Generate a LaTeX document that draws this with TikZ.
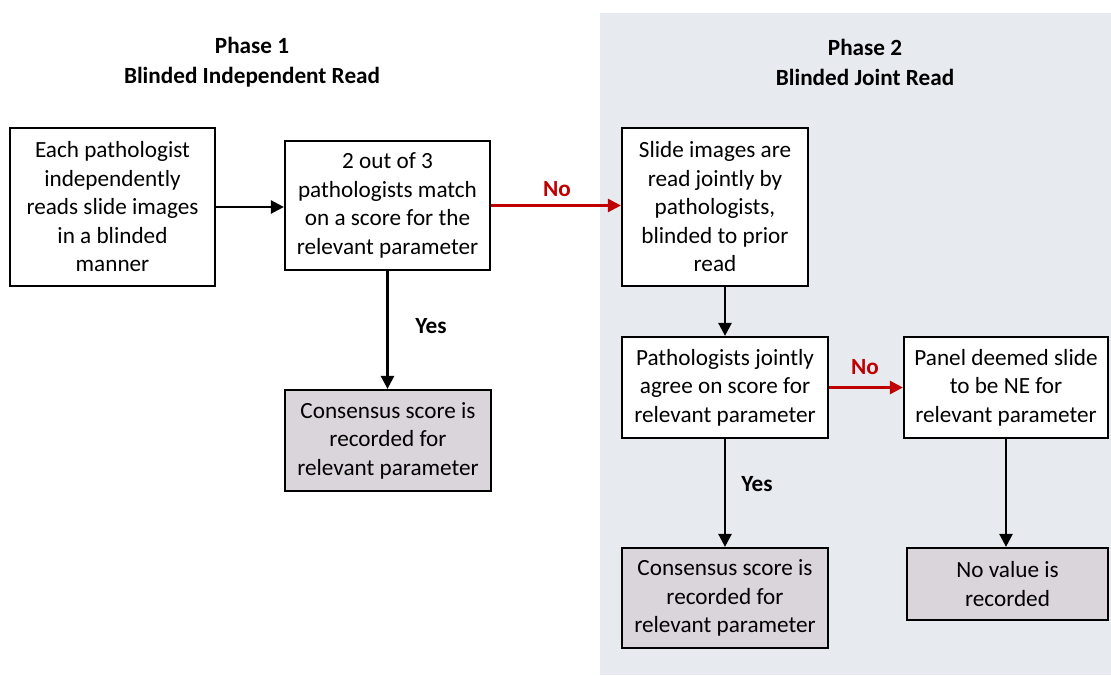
\documentclass[tikz,border=0pt]{standalone}
\usepackage{fontspec}
\setmainfont{Carlito}
\usetikzlibrary{arrows.meta,calc}
\definecolor{panelbg}{RGB}{231,235,239}
\definecolor{resfill}{RGB}{218,212,219}
\definecolor{noRed}{RGB}{192,0,0}
\tikzset{
  box/.style={draw=black, line width=2.2pt, fill=white, align=center, inner sep=0pt,
    font=\fontsize{23.2}{28.5}\selectfont},
  resbox/.style={box, fill=resfill},
  arr/.style={line width=2.5pt, -{Triangle[length=13pt,width=13pt]}},
  noarr/.style={line width=2.6pt, draw=noRed, -{Triangle[length=13pt,width=13pt,fill=noRed]}},
  lbl/.style={font=\fontsize{23.2}{26}\selectfont\bfseries, inner sep=0pt},
  hdr/.style={font=\fontsize{23.2}{30}\selectfont\bfseries, align=center, inner sep=0pt}
}
\begin{document}
\begin{tikzpicture}[x=1pt,y=-1pt]
\useasboundingbox (0,0) rectangle (1111,675);
\fill[white] (0,0) rectangle (1111,675);
\fill[panelbg] (600,13) rectangle (1111,675);

\node[hdr] (h1) at (252,62) {Phase 1\\Blinded Independent Read};
\node[hdr] (h2) at (865,62) {Phase 2\\Blinded Joint Read};

\node[box, minimum width=205pt, minimum height=158pt] (A) at (112.5,207)
  {Each pathologist\\independently\\reads slide images\\in a blinded\\manner};
\node[box, minimum width=205pt, minimum height=129pt] (B) at (387.5,205.5)
  {2 out of 3\\pathologists match\\on a score for the\\relevant parameter};
\node[box, minimum width=186pt, minimum height=158pt] (C) at (715,207)
  {Slide images are\\read jointly by\\pathologists,\\blinded to prior\\read};
\node[box, minimum width=206pt, minimum height=101pt] (D) at (725,387.5)
  {Pathologists jointly\\agree on score for\\relevant parameter};
\node[box, minimum width=204pt, minimum height=101pt] (E) at (1006,387.5)
  {Panel deemed slide\\to be NE for\\relevant parameter};
\node[resbox, minimum width=201pt, minimum height=72pt] (F) at (1007.5,584)
  {No value is\\recorded};
\node[resbox, minimum width=206pt, minimum height=100pt] (G) at (725,598)
  {Consensus score is\\recorded for\\relevant parameter};
\node[resbox, minimum width=206pt, minimum height=101pt] (H) at (388,440.5)
  {Consensus score is\\recorded for\\relevant parameter};

\draw[arr] (A.east) -- (A.east -| B.west);
\draw[noarr] (B.east) -- (B.east -| C.west);
\draw[arr] (B.south) -- (B.south |- H.north);
\draw[arr] (D.north |- C.south) -- (D.north);
\draw[noarr] (D.east) -- (E.west);
\draw[arr] (D.south) -- (G.north);
\draw[arr] (E.south) -- (E.south |- F.north);

\node[lbl, text=noRed] (l1) at (557,189) {No};
\node[lbl] (l2) at (431,326) {Yes};
\node[lbl, text=noRed] (l3) at (865,367) {No};
\node[lbl] (l4) at (757,484) {Yes};
\end{tikzpicture}
\end{document}
